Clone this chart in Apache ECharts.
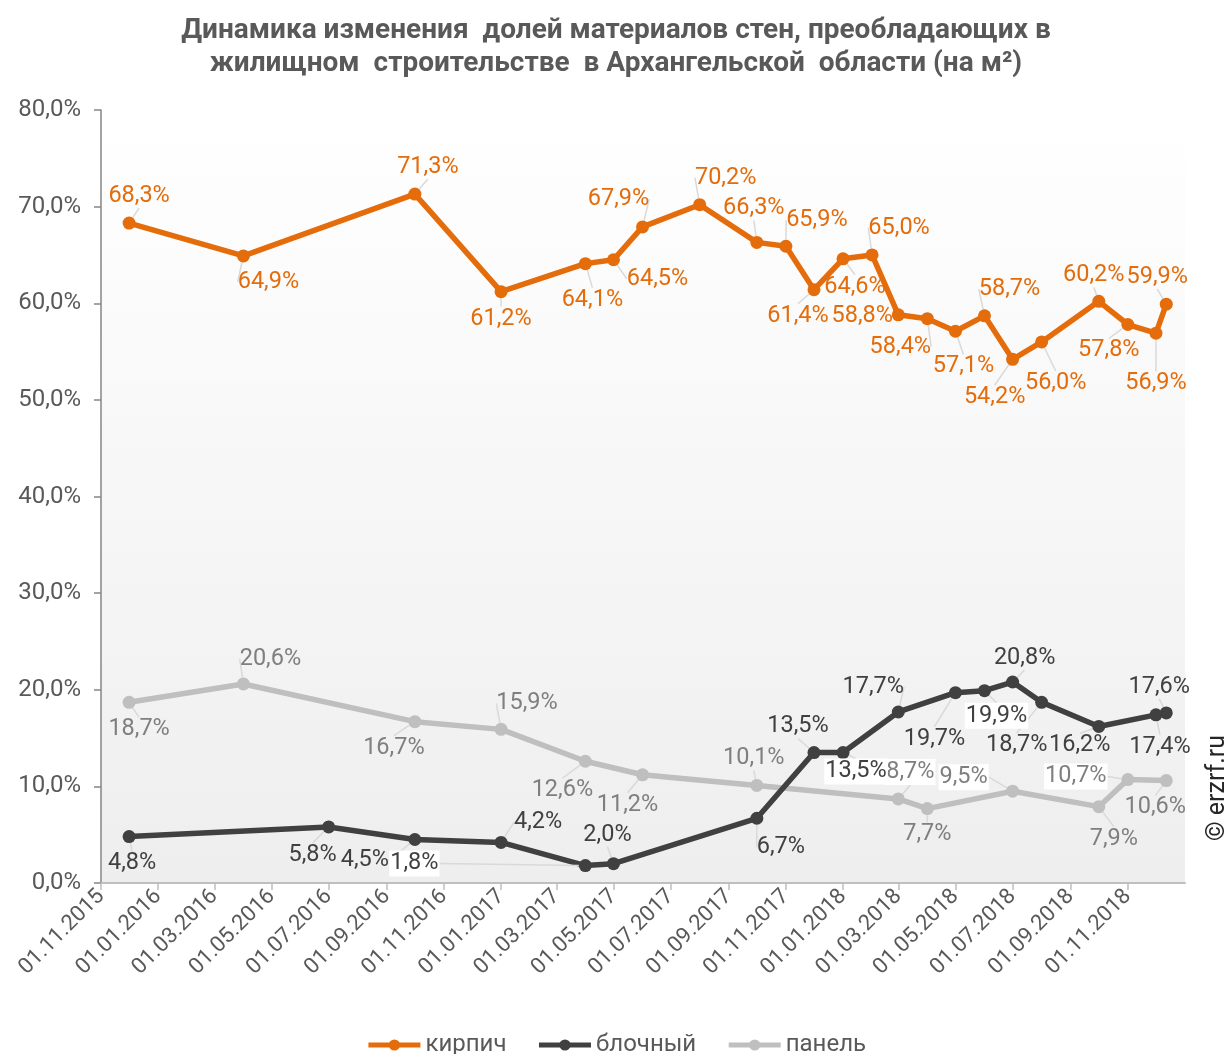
<!DOCTYPE html>
<html>
<head>
<meta charset="utf-8">
<script src="https://cdn.jsdelivr.net/npm/echarts@6/dist/echarts.min.js"></script>
<style>
html, body { margin: 0; padding: 0; background: #fff; }
#main { width: 1232px; height: 1054px; }
</style>
</head>
<body>
<div id="main"></div>
<script>
// данные
var kirpichDates = ['2015-12-01', '2016-04-01', '2016-10-01', '2017-01-01', '2017-04-01', '2017-05-01',
	'2017-06-01', '2017-08-01', '2017-10-01', '2017-11-01', '2017-12-01', '2018-01-01', '2018-02-01',
	'2018-03-01', '2018-04-01', '2018-05-01', '2018-06-01', '2018-07-01', '2018-08-01', '2018-10-01',
	'2018-11-01', '2018-12-01', '2018-12-12'];
var kirpichValues = [68.3, 64.9, 71.3, 61.2, 64.1, 64.5, 67.9, 70.2, 66.3, 65.9, 61.4, 64.6, 65.0,
	58.8, 58.4, 57.1, 58.7, 54.2, 56.0, 60.2, 57.8, 56.9, 59.9];

var blochDates = ['2015-12-01', '2016-07-01', '2016-10-01', '2017-01-01', '2017-04-01', '2017-05-01',
	'2017-10-01', '2017-12-01', '2018-01-01', '2018-03-01', '2018-05-01', '2018-06-01', '2018-07-01',
	'2018-08-01', '2018-10-01', '2018-12-01', '2018-12-12'];
var blochValues = [4.8, 5.8, 4.5, 4.2, 1.8, 2.0, 6.7, 13.5, 13.5, 17.7, 19.7, 19.9, 20.8, 18.7, 16.2, 17.4, 17.6];

var panelDates = ['2015-12-01', '2016-04-01', '2016-10-01', '2017-01-01', '2017-04-01', '2017-06-01',
	'2017-10-01', '2018-03-01', '2018-04-01', '2018-07-01', '2018-10-01', '2018-11-01', '2018-12-12'];
var panelValues = [18.7, 20.6, 16.7, 15.9, 12.6, 11.2, 10.1, 8.7, 7.7, 9.5, 7.9, 10.7, 10.6];

var tickDates = ['2015-11-01', '2016-01-01', '2016-03-01', '2016-05-01', '2016-07-01', '2016-09-01',
	'2016-11-01', '2017-01-01', '2017-03-01', '2017-05-01', '2017-07-01', '2017-09-01', '2017-11-01',
	'2018-01-01', '2018-03-01', '2018-05-01', '2018-07-01', '2018-09-01', '2018-11-01'];

var seriesNames = ['кирпич', 'блочный', 'панель'];

// смещения подписей (dx, dy) относительно точки
var kirpichShift = [[10, -27], [25, 26], [13, -27], [0, 27], [7, 36], [44, 19], [-24, -28], [26, -27],
	[-3, -34], [31, -26], [-16, 26], [12, 28], [27, -27], [-36, 1], [-27, 28], [8, 35], [25, -27],
	[-18, 38], [14, 41], [-5, -26], [-19, 26], [0, 50], [-9, -27]];
var blochShift = [[3, 27], [-16, 28], [-50, 21], [37, -20], [-171, -2], [-6, -29], [24, 29], [-16, -26],
	[13, 19], [-25, -25], [-21, 46], [12, 25], [12, -24], [-25, 43], [-19, 19], [4, 32], [-7, -26]];
var panelShift = [[10, 27], [27, -25], [-21, 26], [26, -26], [-23, 29], [-15, 30], [-3, -27], [12, -27],
	[0, 26], [-49, -14], [15, 32], [-52, -3], [-11, 27]];
var whiteBg = [[], [4, 8, 11], [7, 9, 11]];

var colors = ['#E46C0A', '#404040', '#BFBFBF'];
var labelColors = ['#E46C0A', '#404040', '#7F7F7F'];
var shifts = [kirpichShift, blochShift, panelShift];

function ts(s) {
	var p = s.split('-');
	return new Date(+p[0], +p[1] - 1, +p[2]).getTime();
}
function pad(n) {
	return n < 10 ? '0' + n : '' + n;
}
function fmtPct(v) {
	return v.toFixed(1).replace('.', ',') + '%';
}

function buildData(dates, values, si) {
	var out = [];
	for (var i = 0; i < dates.length; i++) {
		var item = { value: [ts(dates[i]), values[i]] };
		if (whiteBg[si].indexOf(i) >= 0) {
			item.label = { backgroundColor: '#ffffff', padding: [1, 1] };
		}
		out.push(item);
	}
	return out;
}

function makeSeries(si, dates, values) {
	return {
		name: seriesNames[si],
		type: 'line',
		data: buildData(dates, values, si),
		symbol: 'circle',
		symbolSize: 13,
		lineStyle: { color: colors[si], width: 5.5 },
		itemStyle: { color: colors[si] },
		z: 10 - si,
		label: {
			show: true,
			position: 'inside',
			fontFamily: 'Roboto',
			fontSize: 23.5,
			color: labelColors[si],
			formatter: function (p) { return fmtPct(p.value[1]); }
		},
		labelLine: {
			show: true,
			lineStyle: { color: '#d9d9d9', width: 1.5 }
		},
		labelLayout: function (p) {
			var s = shifts[si][p.dataIndex];
			return { dx: s[0], dy: s[1] };
		}
	};
}

var myChart = echarts.init(document.getElementById('main'));

var option = {
	animation: false,
	textStyle: { fontFamily: 'Roboto' },
	title: {
		text: 'Динамика изменения  долей материалов стен, преобладающих в\nжилищном  строительстве  в Архангельской  области (на м²)',
		left: 'center',
		top: 9,
		textStyle: {
			fontFamily: 'Roboto',
			fontSize: 28,
			fontWeight: 'bold',
			color: '#595959',
			lineHeight: 33
		}
	},
	legend: {
		data: seriesNames,
		bottom: -8,
		left: 'center',
		itemWidth: 52,
		itemHeight: 14,
		itemGap: 30,
		lineStyle: { width: 5 },
		textStyle: { fontFamily: 'Roboto', fontSize: 24, color: '#595959' }
	},
	grid: {
		left: 101,
		right: 47,
		top: 110,
		bottom: 171,
		show: true,
		borderWidth: 0,
		backgroundColor: new echarts.graphic.LinearGradient(0, 0, 0, 1, [
			{ offset: 0, color: '#ffffff' },
			{ offset: 1, color: '#eeeeee' }
		])
	},
	xAxis: {
		type: 'value',
		min: ts('2015-11-01'),
		max: ts('2019-01-01'),
		axisLine: { lineStyle: { color: '#bfbfbf', width: 2 } },
		axisTick: {
			show: true,
			length: 7,
			lineStyle: { color: '#bfbfbf', width: 1.5 },
			customValues: tickDates.map(ts)
		},
		splitLine: { show: false },
		axisLabel: {
			rotate: 45,
			margin: 10,
			fontFamily: 'Roboto',
			fontSize: 22,
			color: '#595959',
			customValues: tickDates.map(ts),
			formatter: function (v) {
				var d = new Date(v);
				return pad(d.getDate()) + '.' + pad(d.getMonth() + 1) + '.' + d.getFullYear();
			}
		}
	},
	yAxis: {
		type: 'value',
		min: 0,
		max: 80,
		interval: 10,
		axisLine: { show: true, lineStyle: { color: '#868686', width: 1.5 } },
		axisTick: { show: true, length: 7, lineStyle: { color: '#868686', width: 1.5 } },
		splitLine: { show: false },
		axisLabel: {
			fontFamily: 'Roboto',
			fontSize: 24,
			color: '#595959',
			margin: 20,
			formatter: function (v) { return fmtPct(v); }
		}
	},
	graphic: [{
		type: 'text',
		x: 1218,
		y: 788,
		rotation: Math.PI / 2,
		style: {
			text: '© erzrf.ru',
			fontFamily: 'Roboto',
			fontSize: 25,
			fill: '#262626',
			textAlign: 'center',
			textVerticalAlign: 'middle'
		}
	}],
	series: [
		makeSeries(0, kirpichDates, kirpichValues),
		makeSeries(1, blochDates, blochValues),
		makeSeries(2, panelDates, panelValues)
	]
};

myChart.setOption(option);
</script>
</body>
</html>
